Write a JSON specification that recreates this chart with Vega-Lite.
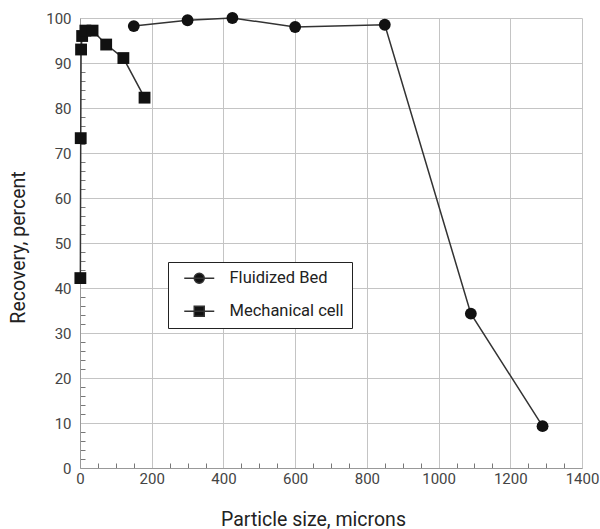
{
  "$schema": "https://vega.github.io/schema/vega-lite/v6.json",
  "width": 502,
  "height": 450,
  "autosize": "none",
  "padding": {"left": 80, "top": 18, "right": 18, "bottom": 61},
  "background": "white",
  "config": {"font": "Roboto", "view": {"stroke": null}},
  "data": {
    "values": [
      {"series": "Fluidized Bed", "particle": 150, "recovery": 98.2},
      {"series": "Fluidized Bed", "particle": 300, "recovery": 99.5},
      {"series": "Fluidized Bed", "particle": 425, "recovery": 100},
      {"series": "Fluidized Bed", "particle": 600, "recovery": 98},
      {"series": "Fluidized Bed", "particle": 850, "recovery": 98.5},
      {"series": "Fluidized Bed", "particle": 1090, "recovery": 34.3},
      {"series": "Fluidized Bed", "particle": 1290, "recovery": 9.3},
      {"series": "Mechanical cell", "particle": 1, "recovery": 42.2},
      {"series": "Mechanical cell", "particle": 2, "recovery": 73.3},
      {"series": "Mechanical cell", "particle": 3, "recovery": 93},
      {"series": "Mechanical cell", "particle": 6, "recovery": 96},
      {"series": "Mechanical cell", "particle": 15, "recovery": 97.2},
      {"series": "Mechanical cell", "particle": 35, "recovery": 97.2},
      {"series": "Mechanical cell", "particle": 73, "recovery": 94.1},
      {"series": "Mechanical cell", "particle": 121, "recovery": 91.1},
      {"series": "Mechanical cell", "particle": 180, "recovery": 82.3}
    ]
  },
  "encoding": {
    "x": {
      "field": "particle",
      "type": "quantitative",
      "scale": {"domain": [0, 1400], "nice": false, "zero": true},
      "axis": {
        "values": [0,50,100,150,200,250,300,350,400,450,500,550,600,650,700,750,800,850,900,950,1000,1050,1100,1150,1200,1250,1300,1350,1400],
        "format": "d",
        "labelExpr": "datum.value % 200 === 0 ? datum.label : ''",
        "title": "Particle size, microns",
        "grid": true,
        "gridColor": "#c4c4c4",
        "gridWidth": 1,
        "gridOpacity": {"condition": {"test": "datum.value % 200 === 0", "value": 1}, "value": 0},
        "ticks": true,
        "tickSize": {"condition": {"test": "datum.value % 200 === 0", "value": 0}, "value": -5},
        "tickWidth": 1,
        "tickColor": "#777",
        "domainColor": "#999",
        "labelFontSize": 15,
        "labelColor": "#444",
        "labelPadding": 3,
        "labelFlush": false,
        "labelOverlap": false,
        "titleFontSize": 19.5,
        "titleFontWeight": "normal",
        "titleColor": "#222",
        "titleX": 233,
        "titleY": 57,
        "titleBaseline": "alphabetic",
        "titleAlign": "center"
      }
    },
    "y": {
      "field": "recovery",
      "type": "quantitative",
      "scale": {"domain": [0, 100], "nice": false},
      "axis": {
        "values": [0,2,4,6,8,10,12,14,16,18,20,22,24,26,28,30,32,34,36,38,40,42,44,46,48,50,52,54,56,58,60,62,64,66,68,70,72,74,76,78,80,82,84,86,88,90,92,94,96,98,100],
        "format": "d",
        "labelExpr": "datum.value % 10 === 0 ? datum.label : ''",
        "title": "Recovery, percent",
        "grid": true,
        "gridColor": "#c4c4c4",
        "gridWidth": 1,
        "gridOpacity": {"condition": {"test": "datum.value % 10 === 0", "value": 1}, "value": 0},
        "ticks": true,
        "tickSize": {"condition": {"test": "datum.value % 10 === 0", "value": 0}, "value": -5},
        "tickWidth": 1,
        "tickColor": "#777",
        "domainColor": "#999",
        "labelFontSize": 15,
        "labelColor": "#444",
        "labelPadding": 9,
        "labelFlush": false,
        "labelOverlap": false,
        "titleFontSize": 19.5,
        "titleFontWeight": "normal",
        "titleColor": "#222",
        "titleX": -56,
        "titleY": 229,
        "titleAngle": -90,
        "titleBaseline": "alphabetic",
        "titleAlign": "center"
      }
    }
  },
  "layer": [
    {
      "mark": {"type": "line", "color": "#333", "strokeWidth": 1.5},
      "encoding": {"detail": {"field": "series", "type": "nominal"}}
    },
    {
      "mark": {"type": "point", "filled": true, "size": 140, "opacity": 1},
      "encoding": {
        "shape": {"condition": {"test": "datum.series === 'Fluidized Bed'", "value": "circle"}, "value": "square"},
        "color": {
          "field": "series",
          "type": "nominal",
          "scale": {"domain": ["Fluidized Bed", "Mechanical cell"], "range": ["#111111", "#111111"]},
          "legend": {
            "title": null,
            "orient": "none",
            "legendX": 88,
            "legendY": 244,
            "padding": 8,
            "strokeColor": "#222",
            "fillColor": "white",
            "symbolSize": 196,
            "symbolType": {"expr": "datum.value === 'Fluidized Bed' ? 'M0,0H4.286M2.857,0A0.714,0.714,0,1,1,1.429,0A0.714,0.714,0,1,1,2.857,0Z' : 'M0,0H4.286M1.429,-0.714H2.857V0.714H1.429Z'"},
            "labelOffset": 37,
            "rowPadding": 16,
            "labelFontSize": 16.5,
            "labelColor": "#222",
            "labelFont": "Roboto",
            "symbolFillColor": "#111",
            "symbolStrokeColor": "#333",
            "symbolStrokeWidth": 1.5,
            "symbolOpacity": 1
          }
        }
      }
    }
  ]
}
